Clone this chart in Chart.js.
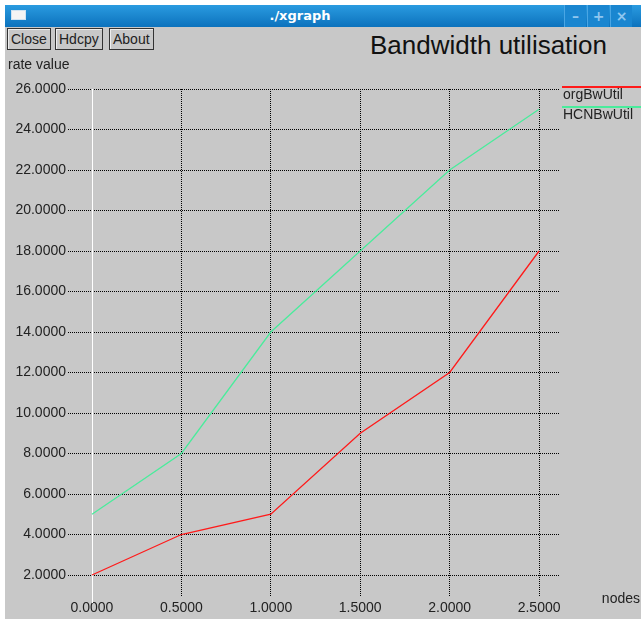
<!DOCTYPE html>
<html>
<head>
<meta charset="utf-8">
<script src="https://cdn.jsdelivr.net/npm/chart.js@4.4.1/dist/chart.umd.min.js"></script>
<style>
    body { margin: 0; background: #fff; font-family: "Liberation Sans", Arial, sans-serif; }
    .win { position: absolute; left: 5px; top: 5px; width: 636px; height: 614px; background: #c8c8c8; overflow: hidden; }
    .titlebar { position: absolute; left: 0; top: 0; width: 636px; height: 22px;
        background: linear-gradient(#2a9be0, #0c72bd); color: #fff; }
    .titlebar .name { position: absolute; left: 0; width: 590px; text-align: center; top: 3px; font: bold 13px "DejaVu Sans", sans-serif; }
    .titlebar .icon { position: absolute; left: 6px; top: 5px; width: 13px; height: 8px; background: #f4f4f4; border: 1px solid #cfe3f2; }
    .titlebar .wb { position: absolute; top: 0; width: 21px; height: 22px; background: #1a86d0; color: #8fc6ef;
        font: bold 14px "DejaVu Sans", sans-serif; text-align: center; line-height: 22px; border-left: 1px solid #4aa6e4; }
    .btn { position: absolute; top: 23px; height: 20px; border: 1px solid #333; box-shadow: inset 1px 1px 0 #eee;
        font-size: 14px; line-height: 20px; padding: 0 3px; color: #222; background: #c8c8c8; }
    .title { position: absolute; left: 365px; top: 25px; font-size: 26px; color: #111; }
    canvas { position: absolute; left: 0; top: 0; }
</style>
</head>
<body>
<div class="win">
    <div class="titlebar">
        <div class="icon"></div>
        <div class="name">./xgraph</div>
        <div class="wb" style="left:559px">&#8211;</div>
        <div class="wb" style="left:582px">+</div>
        <div class="wb" style="left:605px">&#215;</div>
    </div>
    <div class="btn" style="left:2px">Close</div>
    <div class="btn" style="left:50px">Hdcpy</div>
    <div class="btn" style="left:104px">About</div>
    <div class="title">Bandwidth utilisation</div>
</div>
<canvas id="chart" width="641" height="619"></canvas>
<script>
// data
const nodes = [0, 0.5, 1.0, 1.5, 2.0, 2.5];
const orgBwUtil = [2, 4, 5, 9, 12, 18];
const hcnBwUtil = [5, 8, 14, 18, 22, 25];
const xTicks = [0, 0.5, 1.0, 1.5, 2.0, 2.5];
const yTicks = [2, 4, 6, 8, 10, 12, 14, 16, 18, 20, 22, 24, 26];

const textColor = '#222';
const font = { family: '"Liberation Sans", Arial, sans-serif', size: 14 };

function toPoints(ys) {
    return nodes.map((x, i) => ({ x: x, y: ys[i] }));
}

// white zero axis, axis names and the line-over-text legend
const xgraphBits = {
    id: 'xgraphBits',
    beforeDatasetsDraw(chart) {
        const c = chart.ctx;
        const x0 = chart.scales.x.getPixelForValue(0);
        c.save();
        c.setLineDash([]);
        c.strokeStyle = '#fff';
        c.lineWidth = 1;
        c.beginPath();
        c.moveTo(Math.round(x0) + 0.5, chart.chartArea.top);
        c.lineTo(Math.round(x0) + 0.5, chart.chartArea.bottom + 6);
        c.stroke();
        c.restore();
    },
    afterDraw(chart) {
        const c = chart.ctx;
        c.save();
        c.setLineDash([]);
        c.font = '14px "Liberation Sans", Arial, sans-serif';
        c.fillStyle = textColor;
        c.textBaseline = 'middle';
        c.textAlign = 'left';
        c.fillText('rate value', 8, 65);
        c.textAlign = 'right';
        c.fillText('nodes', 640, 599);
        c.textAlign = 'left';
        chart.data.datasets.forEach((ds, i) => {
            const y = 87 + i * 20;
            c.strokeStyle = ds.borderColor;
            c.lineWidth = 2;
            c.beginPath();
            c.moveTo(562, y);
            c.lineTo(641, y);
            c.stroke();
            c.fillStyle = textColor;
            c.fillText(ds.label, 563, y + 8);
        });
        c.restore();
    }
};

new Chart(document.getElementById('chart'), {
    type: 'line',
    data: {
        datasets: [{
            label: 'orgBwUtil',
            data: toPoints(orgBwUtil),
            borderColor: '#ff1a1a',
            borderWidth: 1.3,
            pointRadius: 0,
            tension: 0
        }, {
            label: 'HCNBwUtil',
            data: toPoints(hcnBwUtil),
            borderColor: '#4aec9c',
            borderWidth: 1.3,
            pointRadius: 0,
            tension: 0
        }]
    },
    options: {
        responsive: false,
        animation: false,
        layout: { padding: { top: 89, right: 81, left: 0, bottom: 0 } },
        plugins: { legend: { display: false }, tooltip: { enabled: false } },
        scales: {
            x: {
                type: 'linear',
                min: -0.134,
                max: 2.617,
                afterBuildTicks: s => { s.ticks = xTicks.map(v => ({ value: v })); },
                afterFit: s => { s.height = 22; },
                ticks: { color: textColor, font: font, padding: 3, maxRotation: 0,
                    callback: v => v.toFixed(4) },
                grid: { color: ctx => ctx.tick && ctx.tick.value === 0 ? 'rgba(0,0,0,0)' : '#000',
                    drawTicks: false, lineWidth: 1 },
                border: { display: false, dash: [1, 1] }
            },
            y: {
                min: 0.914,
                max: 26,
                afterBuildTicks: s => { s.ticks = yTicks.map(v => ({ value: v })); },
                afterFit: s => { s.width = 68; },
                ticks: { color: textColor, font: font, padding: 2,
                    callback: v => v.toFixed(4) },
                grid: { color: '#000', drawTicks: false, lineWidth: 1 },
                border: { display: false, dash: [1, 1] }
            }
        }
    },
    plugins: [xgraphBits]
});
</script>
</body>
</html>
